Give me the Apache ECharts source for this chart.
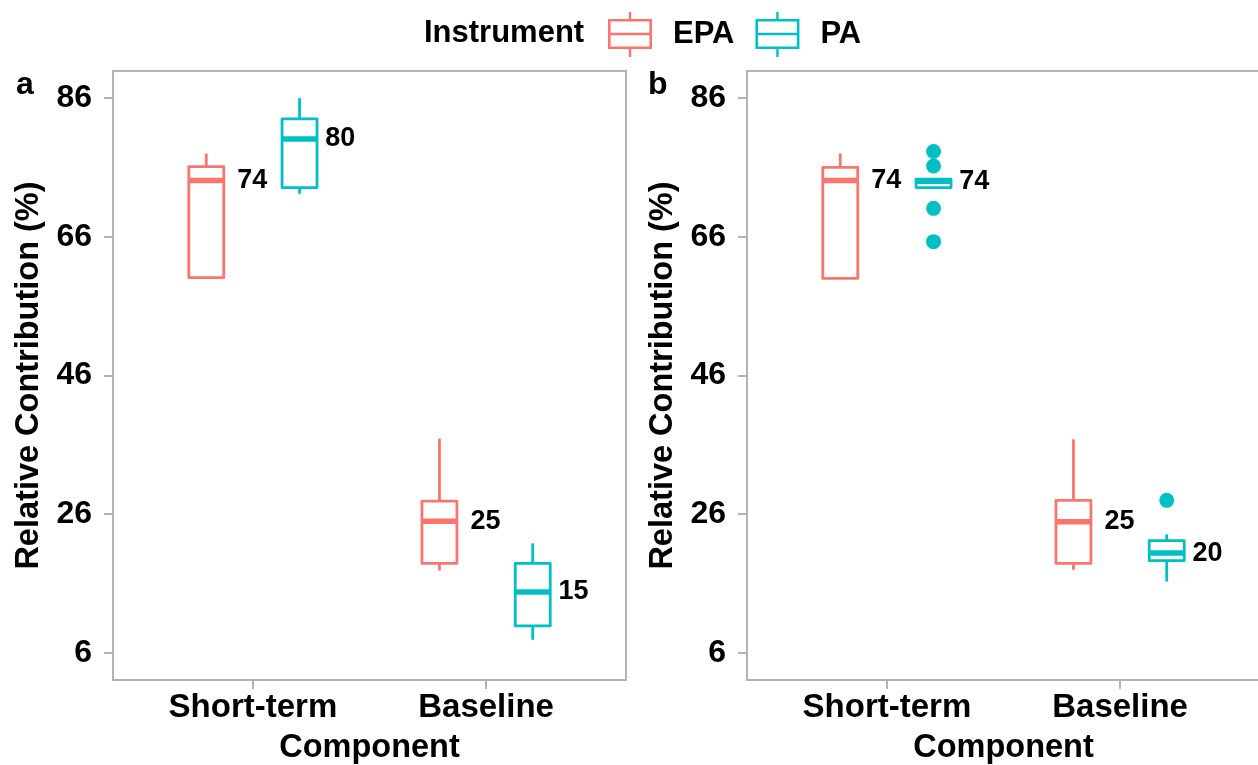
<!DOCTYPE html>
<html>
<head>
<meta charset="utf-8">
<script src="https://cdn.jsdelivr.net/npm/echarts@6/dist/echarts.min.js"></script>
<style>
html,body{margin:0;padding:0;background:#fff;}
#chart{width:1258px;height:765px;}
</style>
</head>
<body>
<div id="chart"></div>
<script>
// ---------------- data ----------------
const categories = ['Short-term', 'Baseline'];
const yTicks = [6, 26, 46, 66, 86];
// each row: [lower whisker, Q1, median, Q3, upper whisker]
const epaA = [[60.1, 60.1, 74.1, 76.1, 78.0], [17.9, 18.9, 25.0, 27.9, 36.9]];
const paA  = [[72.2, 73.1, 80.1, 83.0, 86.0], [7.9, 9.9, 14.8, 18.9, 21.8]];
const epaB = [[60.0, 60.0, 74.1, 76.0, 78.0], [18.0, 18.9, 24.9, 28.0, 36.8]];
const paB  = [[73.1, 73.1, 74.0, 74.3, 74.3], [16.3, 19.3, 20.4, 22.2, 23.1]];
// outliers of PA in panel b: [category index, value]
const paBOutliers = [[0, 78.3], [0, 76.2], [0, 70.1], [0, 65.3], [1, 28.0]];
const epaLabelsA = [74, 25];
const paLabelsA  = [80, 15];
const epaLabelsB = [74, 25];
const paLabelsB  = [74, 20];

// ---------------- style ----------------
const FONT = '"Liberation Sans", Arial, Helvetica, sans-serif';
const RED = '#F8766D', TEAL = '#00BFC4';
const GREY = '#b3b3b3';
const DODGE = 0.2, HALF = 0.075;

function boxSeries(name, rows, labels, dodge, labelOffset, color, gi) {
  return {
    type: 'custom', name: name, xAxisIndex: gi, yAxisIndex: gi,
    itemStyle: { color: color },
    encode: { x: 0, y: [1, 2, 3, 4, 5] },
    data: rows.map((r, i) => [i + 1 + dodge, r[0], r[1], r[2], r[3], r[4], labels[i]]),
    renderItem: function (params, api) {
      const x = api.value(0);
      const lo = api.value(1), q1 = api.value(2), med = api.value(3), q3 = api.value(4), hi = api.value(5);
      const lab = api.value(6);
      const tl = api.coord([x - HALF, q3]);
      const br = api.coord([x + HALF, q1]);
      const ml = api.coord([x - HALF, med]);
      const mr = api.coord([x + HALF, med]);
      const top = api.coord([x, hi]);
      const bot = api.coord([x, lo]);
      const lp = api.coord([x + labelOffset, med]);
      const lw = 2.8;
      const children = [];
      if (hi > q3) children.push({ type: 'line', shape: { x1: top[0], y1: top[1], x2: top[0], y2: tl[1] }, style: { stroke: color, lineWidth: lw } });
      if (lo < q1) children.push({ type: 'line', shape: { x1: bot[0], y1: br[1], x2: bot[0], y2: bot[1] }, style: { stroke: color, lineWidth: lw } });
      children.push({ type: 'rect', shape: { x: tl[0], y: tl[1], width: br[0] - tl[0], height: br[1] - tl[1] }, style: { fill: 'none', stroke: color, lineWidth: lw, lineJoin: 'round' } });
      children.push({ type: 'line', shape: { x1: ml[0], y1: ml[1], x2: mr[0], y2: mr[1] }, style: { stroke: color, lineWidth: 5.5 } });
      children.push({ type: 'text', style: { text: String(lab), x: lp[0], y: lp[1], fill: '#000', font: 'bold 27px ' + FONT, align: 'center', verticalAlign: 'middle' } });
      return { type: 'group', children: children };
    }
  };
}

const boldText = { fontFamily: FONT, fontWeight: 'bold', color: '#000' };

function xAxis(gi) {
  return {
    gridIndex: gi, type: 'value', min: 0.4, max: 2.6,
    axisLine: { show: false }, splitLine: { show: false },
    axisTick: { show: true, customValues: [1, 2], length: 9, lineStyle: { color: GREY, width: 2 } },
    axisLabel: Object.assign({ customValues: [1, 2], margin: 11, fontSize: 33,
      formatter: v => categories[Math.round(v) - 1] }, boldText),
    name: 'Component', nameLocation: 'middle', nameGap: 52,
    nameTextStyle: Object.assign({ fontSize: 32.5 }, boldText)
  };
}
function yAxis(gi) {
  return {
    gridIndex: gi, type: 'value', min: 2.1, max: 89.9,
    axisLine: { show: false }, splitLine: { show: false },
    axisTick: { show: true, customValues: yTicks, length: 9, lineStyle: { color: GREY, width: 2 } },
    axisLabel: Object.assign({ customValues: yTicks, margin: 21, fontSize: 32 }, boldText),
    name: 'Relative Contribution (%)', nameLocation: 'middle', nameGap: 67, nameRotate: 90,
    nameTextStyle: Object.assign({ fontSize: 32.5 }, boldText)
  };
}

const legendIcon = 'path://M0 7L44 7L44 37L0 37Z M2.6 9.6L2.6 20.8L41.4 20.8L41.4 9.6Z M2.6 23.2L2.6 34.4L41.4 34.4L41.4 23.2Z M20.8 0L23.2 0L23.2 7L20.8 7Z M20.8 37L23.2 37L23.2 45L20.8 45Z';

const chart = echarts.init(document.getElementById('chart'), null, { renderer: 'canvas' });
chart.setOption({
  backgroundColor: '#fff',
  animation: false,
  title: [
    { text: 'a', left: 16, top: 69, padding: 0, textStyle: Object.assign({ fontSize: 32 }, boldText) },
    { text: 'b', left: 648, top: 69, padding: 0, textStyle: Object.assign({ fontSize: 32 }, boldText) },
    { text: 'Instrument', left: 424, top: 18, padding: 0, textStyle: Object.assign({ fontSize: 31 }, boldText) }
  ],
  legend: {
    left: 608, top: 12, padding: 0, itemWidth: 44, itemGap: 21, itemHeight: 46,
    data: [{ name: 'EPA', icon: legendIcon }, { name: 'PA', icon: legendIcon }],
    textStyle: Object.assign({ fontSize: 31, padding: [0, 0, 0, 16] }, boldText),
    selectedMode: false
  },
  grid: [
    { left: 113, top: 71, width: 513, height: 609, show: true, borderColor: GREY, borderWidth: 2, backgroundColor: '#fff', outerBoundsMode: 'none' },
    { left: 747, top: 71, width: 513, height: 609, show: true, borderColor: GREY, borderWidth: 2, backgroundColor: '#fff', outerBoundsMode: 'none' }
  ],
  xAxis: [xAxis(0), xAxis(1)],
  yAxis: [yAxis(0), yAxis(1)],
  series: [
    boxSeries('EPA', epaA, epaLabelsA, -DODGE, 0.197, RED, 0),
    boxSeries('PA', paA, paLabelsA, DODGE, 0.175, TEAL, 0),
    boxSeries('EPA', epaB, epaLabelsB, -DODGE, 0.197, RED, 1),
    boxSeries('PA', paB, paLabelsB, DODGE, 0.175, TEAL, 1),
    {
      type: 'scatter', name: 'PA', xAxisIndex: 1, yAxisIndex: 1,
      symbolSize: 15, itemStyle: { color: TEAL, opacity: 1 },
      data: paBOutliers.map(p => [p[0] + 1 + DODGE, p[1]])
    }
  ]
});
</script>
</body>
</html>
